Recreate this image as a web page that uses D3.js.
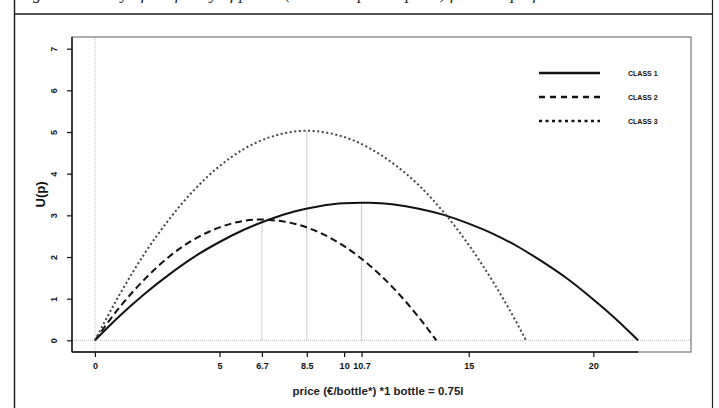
<!DOCTYPE html>
<html>
<head>
<meta charset="utf-8">
<script src="https://cdn.jsdelivr.net/npm/d3@7"></script>
<style>
body{margin:0;background:#fff;}
svg{display:block;}
</style>
</head>
<body>
<div id="chart"></div>
<script>

const caption="Figure 4. Utility of the family of prices (with the optimal price) for each preference class";

const class1=[[0,0],[1,0.59],[2,1.12],[3,1.59],[4,2.01],[5,2.36],[6,2.66],[7,2.9],[8,3.09],[9,3.22],[10,3.29],[10.7,3.3],[11,3.3],[12,3.26],[13,3.16],[14,3.01],[15,2.8],[16,2.55],[17,2.24],[18,1.87],[19,1.46],[20,0.98],[21,0.46],[21.8,0]];
const class2=[[0,0],[1,0.8],[2,1.47],[3,2.02],[4,2.43],[5,2.71],[6,2.87],[6.7,2.9],[7,2.89],[8,2.8],[9,2.59],[10,2.26],[11,1.81],[12,1.24],[13,0.55],[13.7,0]];
const class3=[[0,0],[1,1.11],[2,2.09],[3,2.92],[4,3.62],[5,4.18],[6,4.6],[7,4.87],[8,5.01],[8.5,5.03],[9,5.01],[10,4.88],[11,4.62],[12,4.23],[13,3.72],[14,3.07],[15,2.29],[16,1.38],[17,0.34],[17.3,0]];

const optimal=[[6.7,2.9],[8.5,5.03],[10.7,3.3]];

const xTicks=[0,5,6.7,8.5,10,10.7,15,20];
const yTicks=[0,1,2,3,4,5,6,7];
const classNames=["CLASS 1","CLASS 2","CLASS 3"];

const width=719,height=408;
const box={left:72,right:691,top:37,bottom:352};

const svg=d3.select("#chart")
    .append("svg")
    .attr("width",width)
    .attr("height",height);

// caption, cut off at the top of the page as in the scan
svg.append("text")
    .attr("x",18)
    .attr("y",-1)
    .attr("font-family","Liberation Serif")
    .attr("font-style","italic")
    .attr("font-size",17)
    .attr("fill","#222")
    .text(caption);

svg.append("line")
    .attr("x1",14).attr("x2",713)
    .attr("y1",14).attr("y2",14)
    .attr("stroke","#555")
    .attr("stroke-width",2);

svg.append("line")
    .attr("x1",14.5).attr("x2",14.5)
    .attr("y1",0).attr("y2",height)
    .attr("stroke","#222")
    .attr("stroke-width",1.5);

svg.append("line")
    .attr("x1",712.5).attr("x2",712.5)
    .attr("y1",0).attr("y2",height)
    .attr("stroke","#222")
    .attr("stroke-width",1.2);

// R style limits: 4% padding around 0..23 and 0..7
const x=d3.scaleLinear().domain([-0.92,23.92]).range([box.left,box.right]);
const y=d3.scaleLinear().domain([-0.28,7.28]).range([box.bottom,box.top]);

// reference lines
svg.append("line")
    .attr("x1",x(0)).attr("x2",x(0))
    .attr("y1",box.top).attr("y2",box.bottom)
    .attr("stroke","#bbb")
    .attr("stroke-width",1)
    .attr("stroke-dasharray","1,1");

svg.append("line")
    .attr("x1",box.left).attr("x2",box.right)
    .attr("y1",y(0)).attr("y2",y(0))
    .attr("stroke","#bbb")
    .attr("stroke-width",1)
    .attr("stroke-dasharray","1,1");

svg.selectAll(".optLine")
    .data(optimal)
    .enter()
    .append("line")
    .attr("class","optLine")
    .attr("x1",d=>x(d[0])).attr("x2",d=>x(d[0]))
    .attr("y1",y(0)).attr("y2",d=>y(d[1]))
    .attr("stroke","#999")
    .attr("stroke-width",1)
    .attr("stroke-dasharray","1,1");

// curves
const line=d3.line()
    .x(d=>x(d[0]))
    .y(d=>y(d[1]))
    .curve(d3.curveMonotoneX);

const curves=[
    {data:class1,dash:null,w:2,col:"#111"},
    {data:class2,dash:"7,4",w:2,col:"#111"},
    {data:class3,dash:"2,2.6",w:2,col:"#444"}
];

svg.selectAll(".curve")
    .data(curves)
    .enter()
    .append("path")
    .attr("class","curve")
    .attr("d",d=>line(d.data))
    .attr("fill","none")
    .attr("stroke",d=>d.col)
    .attr("stroke-width",d=>d.w)
    .attr("stroke-dasharray",d=>d.dash);

// plot box
svg.append("rect")
    .attr("x",box.left).attr("y",box.top)
    .attr("width",box.right-box.left)
    .attr("height",box.bottom-box.top)
    .attr("fill","none")
    .attr("stroke","#777")
    .attr("stroke-width",1.2);

// axes
const xAxis=svg.append("g")
    .attr("transform",`translate(0,${box.bottom})`)
    .call(d3.axisBottom(x).tickValues(xTicks).tickFormat(d=>d).tickSize(5).tickSizeOuter(0));

xAxis.select(".domain").remove();
xAxis.append("line")
    .attr("x1",box.left).attr("x2",x(21.8))
    .attr("stroke","#111")
    .attr("stroke-width",1.6);

xAxis.selectAll(".tick line").attr("stroke","#111").attr("stroke-width",1.2);
xAxis.selectAll(".tick text")
    .attr("y",11)
    .attr("font-family","Liberation Sans")
    .attr("font-weight","bold")
    .attr("font-size",9)
    .attr("fill","#111");

const yAxis=svg.append("g")
    .attr("transform",`translate(${box.left},0)`)
    .call(d3.axisLeft(y).tickValues(yTicks).tickSize(5).tickSizeOuter(0));

yAxis.select(".domain").remove();
yAxis.append("line")
    .attr("y1",box.top).attr("y2",box.bottom)
    .attr("stroke","#111")
    .attr("stroke-width",1.4);

yAxis.selectAll(".tick line").attr("stroke","#111").attr("stroke-width",1.2);
yAxis.selectAll(".tick text")
    .attr("x",0).attr("dy",0)
    .attr("text-anchor","middle")
    .attr("transform","translate(-15,0) rotate(-90)")
    .attr("font-family","Liberation Sans")
    .attr("font-weight","bold")
    .attr("font-size",9)
    .attr("fill","#111");

// axis titles
svg.append("text")
    .attr("transform",`translate(45,${(box.top+box.bottom)/2}) rotate(-90)`)
    .attr("text-anchor","middle")
    .attr("font-family","Liberation Sans")
    .attr("font-weight","bold")
    .attr("font-size",13)
    .attr("fill","#111")
    .text("U(p)");

svg.append("text")
    .attr("x",378)
    .attr("y",395)
    .attr("text-anchor","middle")
    .attr("font-family","Liberation Sans")
    .attr("font-size",11.5)
    .attr("font-weight","bold")
    .attr("fill","#222")
    .text("price (€/bottle*)  *1 bottle = 0.75l");

// legend
const legend=svg.selectAll(".legend")
    .data(curves)
    .enter()
    .append("g")
    .attr("class","legend")
    .attr("transform",(d,i)=>`translate(539,${73+i*24})`);

legend.append("line")
    .attr("x1",0).attr("x2",61)
    .attr("stroke","#111")
    .attr("stroke-width",2.5)
    .attr("stroke-dasharray",d=>d.dash===null?null:(d.dash==="7,4"?"6,5":"3,3.5"));

legend.append("text")
    .attr("x",89)
    .attr("y",3)
    .attr("font-family","Liberation Sans")
    .attr("font-weight","bold")
    .attr("font-size",7)
    .attr("fill","#111")
    .text((d,i)=>classNames[i]);

</script>
</body>
</html>
